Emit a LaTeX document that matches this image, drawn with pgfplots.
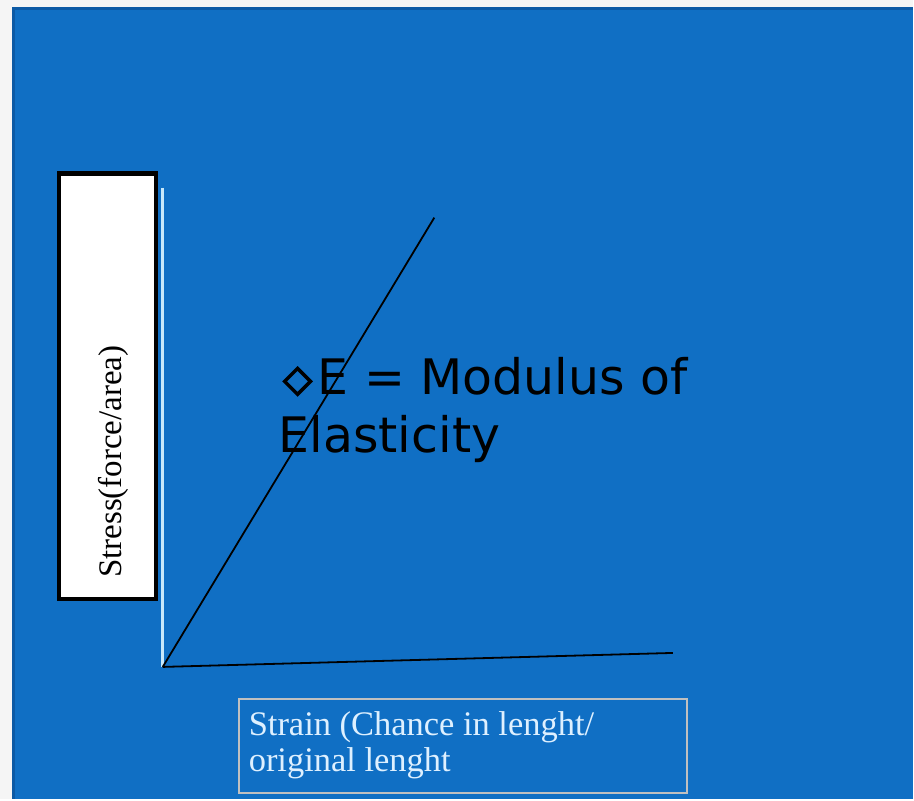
\documentclass[border=0pt]{standalone}
\usepackage{fontspec}
\setmainfont{Liberation Serif}
\newfontfamily\dejavu{DejaVu Sans}
\usepackage{pgfplots}
\pgfplotsset{compat=1.18}

\definecolor{slideblue}{RGB}{16,111,196}
\definecolor{slideedge}{RGB}{12,90,165}
\definecolor{axisline}{RGB}{200,232,250}
\definecolor{labeltext}{RGB}{222,240,255}
\definecolor{boxgray}{RGB}{192,192,192}

\begin{document}
\begin{tikzpicture}
\begin{axis}[
    hide axis,
    scale only axis,
    width=914pt, height=800pt,
    xmin=0, xmax=914,
    ymin=0, ymax=800,
    y dir=reverse,
    clip=false,
]
% slide background
\fill[gray!8] (axis cs:0,0) rectangle (axis cs:914,800);
\fill[slideblue] (axis cs:12,7) rectangle (axis cs:914,800);
\draw[slideedge, line width=3pt] (axis cs:13.5,800) -- (axis cs:13.5,8.5) -- (axis cs:914,8.5);

% y label box
\filldraw[fill=white, draw=black, line width=4.5pt]
    (axis cs:59,174) rectangle (axis cs:156,600);
\node[rotate=90, anchor=base west, inner sep=0pt, font=\fontsize{33}{36}\selectfont]
    at (axis cs:122,579) {Stress(force/area)};

% x label box
\draw[boxgray, line width=2pt] (axis cs:239,700) rectangle (axis cs:688,794);
\node[anchor=base west, inner sep=0pt, text=labeltext, font=\fontsize{34.5}{36}\selectfont]
    at (axis cs:249,737) {Strain (Chance in lenght/};
\node[anchor=base west, inner sep=0pt, text=labeltext, font=\fontsize{34.5}{36}\selectfont]
    at (axis cs:249,773) {original lenght};

% axes of the sketch
\addplot[axisline, line width=3pt] coordinates {(163,188) (163,668)};
\addplot[black, line width=1.8pt] coordinates {(163,668) (674,654)};
\addplot[black, line width=1.8pt] coordinates {(163,668) (435,218)};

% annotation
\draw[black, line width=3.4pt, line join=miter]
    (axis cs:285,382) -- (axis cs:298,369) -- (axis cs:311,382) -- (axis cs:298,395) -- cycle;
\node[anchor=base west, inner sep=0pt, font=\dejavu\fontsize{49}{57}\selectfont]
    at (axis cs:318,395) {E = Modulus of};
\node[anchor=base west, inner sep=0pt, font=\dejavu\fontsize{49}{57}\selectfont]
    at (axis cs:279,453) {Elasticity};
\end{axis}
\end{tikzpicture}
\end{document}
